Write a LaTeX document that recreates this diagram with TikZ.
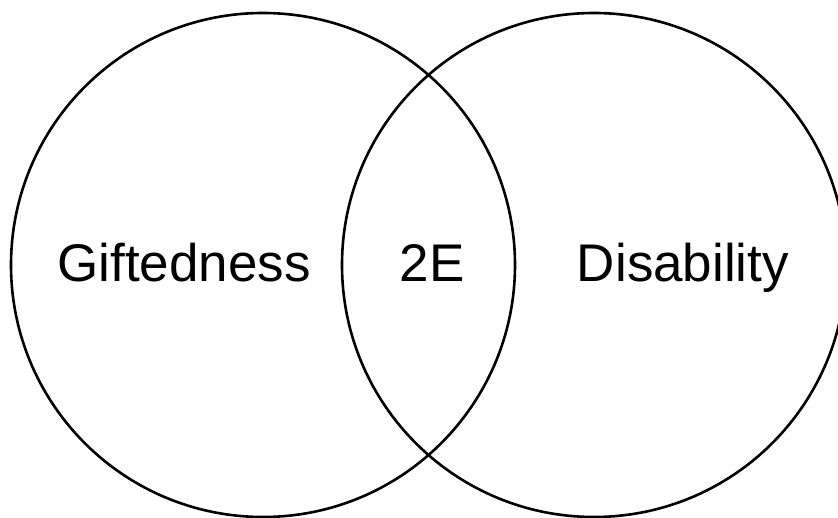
\documentclass[tikz,border=0pt]{standalone}
\usepackage{fontspec}
\setmainfont{Liberation Sans}
\begin{document}
\begin{tikzpicture}[x=1pt,y=-1pt,
  setcircle/.style={draw=black,line width=2.6pt},
  lbl/.style={font=\fontsize{53}{62}\selectfont,inner sep=0pt,anchor=base}]
\useasboundingbox (0,0) rectangle (838,518);
\draw[setcircle] (263,265) circle[radius=252] coordinate (L);
\draw[setcircle] (594,265) circle[radius=252] coordinate (R);
\node[lbl] (gift) at (184,282) {Giftedness};
\node[lbl] (twoe) at (432,282) {2E};
\node[lbl] (dis) at (683,282) {Disability};
\end{tikzpicture}
\end{document}
